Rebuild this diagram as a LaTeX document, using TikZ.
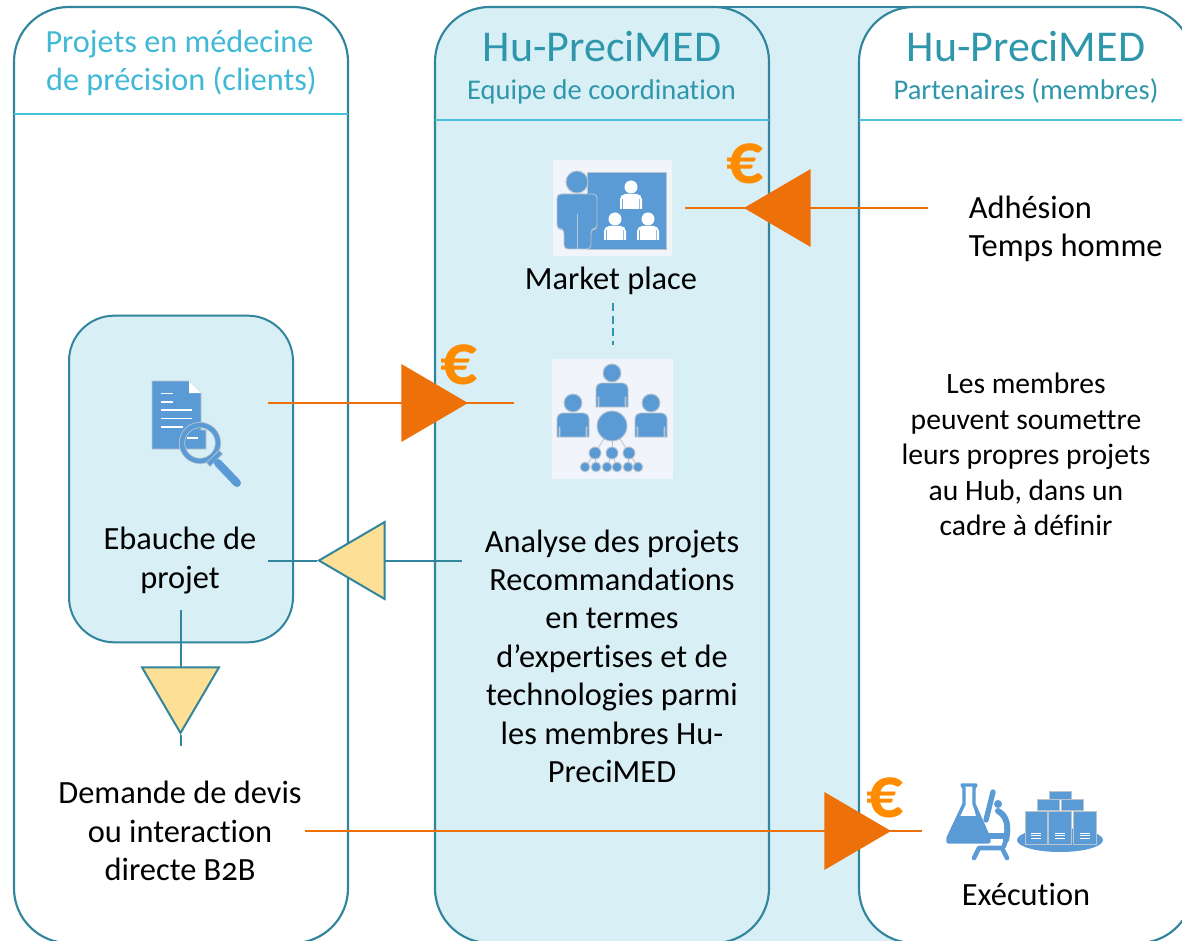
\documentclass[tikz,border=0pt]{standalone}
\usepackage{fontspec}
\setmainfont[Numbers=OldStyle,Ligatures=NoCommon]{Carlito}
\usetikzlibrary{arrows.meta,calc}
\definecolor{panelline}{HTML}{31859C}
\definecolor{hdrline}{HTML}{4BC0DC}
\definecolor{lightfill}{HTML}{D9EFF6}
\definecolor{titleA}{HTML}{41B9D6}
\definecolor{titleB}{HTML}{2E97AC}
\definecolor{orangeA}{HTML}{EE7009}
\definecolor{euroC}{HTML}{FF8C00}
\definecolor{yellowA}{HTML}{FDE096}
\definecolor{iconblue}{HTML}{5B9BD5}
\definecolor{icongrey}{HTML}{B9C4CE}
\definecolor{iconbg}{HTML}{F1F5FB}
\tikzset{
  panel/.style={draw=panelline,line width=1.6pt,rounded corners=41pt,minimum width=#1,minimum height=702pt,inner sep=0pt,outer sep=0pt},
  hdr/.style={draw=hdrline,line width=1.3pt},
  txt/.style={align=center,anchor=base,text=black,inner sep=0pt,font=\fontsize{24.3pt}{28.8pt}\selectfont},
  txtsmall/.style={align=center,anchor=base,text=black,inner sep=0pt,font=\fontsize{22.2pt}{26.6pt}\selectfont},
  ttlA/.style={align=center,anchor=base,text=titleA,inner sep=0pt,font=\fontsize{24.2pt}{28.8pt}\selectfont},
  ttlB/.style={anchor=base,text=titleB,inner sep=0pt,font=\fontsize{33pt}{34pt}\selectfont},
  ttlC/.style={anchor=base,text=titleB,inner sep=0pt,font=\fontsize{21.4pt}{26pt}\selectfont},
  euro/.style={anchor=center,text=euroC,inner sep=0pt,font=\bfseries\fontsize{55pt}{55pt}\selectfont},
  oline/.style={draw=orangeA,line width=2.2pt},
  tline/.style={draw=panelline,line width=1.5pt},
  otip/.style={-{Triangle[length=50pt,width=58.5pt,fill=orangeA,line width=0pt]}},
  ytip/.style={-{Triangle[length=51.5pt,width=60pt,fill=yellowA]}},
  ic/.style={fill=iconblue,draw=icongrey,line width=.7pt},
  icw/.style={fill=white,draw=none},
  icl/.style={draw=icongrey,line width=.6pt},
  iwl/.style={draw=white,line width=1pt},
  ibl/.style={draw=iconblue,line cap=round,line join=round},
}
% centre x, head y, head r, half body width, body top, body bottom, style
\newcommand{\iconbust}[7]{%
  \path[#7] (#1,#2) circle (#3);
  \path[#7] (#1-#4+3,#6) -- (#1-#4+3,#6-10) -- (#1-#4+2.2,#6-10) -- (#1-#4+2.2,#6) -- (#1-#4,#6)
    [rounded corners=4pt] -- (#1-#4,#5) -- (#1+#4,#5) [sharp corners] -- (#1+#4,#6) -- (#1+#4-2.2,#6) -- (#1+#4-2.2,#6-10) -- (#1+#4-3,#6-10) -- (#1+#4-3,#6) -- cycle;
}
\begin{document}
\begin{tikzpicture}[x=0.75pt,y=-0.75pt]
\useasboundingbox (0,0) rectangle (1182,941);
\clip (0,0) rectangle (1182,941);
\fill[white] (0,0) rectangle (1182,941);
% band between the two Hu-PreciMED panels
\path[fill=lightfill] (715,7) rectangle (920,941);
\draw[panelline,line width=1.6pt] (715,7) -- (920,7);
% panels
\node[panel=250.5pt,fill=white] (left) at (181,475) {};
\node[panel=250.5pt,fill=lightfill] (mid) at (602,475) {};
\node[panel=250.5pt,fill=white] (right) at (1026,475) {};
\draw[hdr] (left.west |- 0,114) -- (left.east |- 0,114);
\draw[hdr] (mid.west |- 0,120) -- (mid.east |- 0,120);
\draw[hdr] (right.west |- 0,120) -- (right.east |- 0,120);
% titles
\node[ttlA] (t1) at (179.5,91) {Projets en médecine\\\hspace*{3pt}de précision (clients)};
\node[ttlB] (t2) at (602,62) {Hu-PreciMED};
\node[ttlC] (t3) at (601.5,100) {Equipe de coordination};
\node[ttlB] (t4) at (1026,62) {Hu-PreciMED};
\node[ttlC] (t5) at (1026,100) {Partenaires (membres)};
% draft box
\node[draw=panelline,line width=1.5pt,fill=lightfill,rounded corners=34pt,minimum width=168pt,minimum height=245pt,inner sep=0pt] (draft) at (181,479) {};
% texts
\node[txt] (market) at (611,290) {Market place};
\node[txt,align=left,anchor=base west] (adh) at (968.5,256.5) {Adhésion\\Temps homme};
\node[txtsmall] (membres) at (1026,535.5) {Les membres\\peuvent soumettre\\leurs propres projets\\au Hub, dans un\\cadre à définir};
\node[txt] (ebauche) at (180,588) {Ebauche de\\projet};
\node[txt] (analyse) at (612,782.5) {Analyse des projets\\Recommandations\\en termes\\d’expertises et de\\technologies parmi\\les membres Hu-\\PreciMED};
\node[txt] (demande) at (180,880.5) {Demande de devis\\ou interaction\\directe B2B};
\node[txt] (exec) at (1026,905) {Exécution};
% euros
\node[euro] (e1) at (745,164) {€};
\node[euro] (e2) at (459,365) {€};
\node[euro] (e3) at (885,798) {€};
% connectors
\coordinate (a1s) at (928,208); \coordinate (a1t) at (744,208); \coordinate (a1e) at (685,208);
\draw[oline] (a1s) -- (a1e);
\draw[oline,otip] (a1s) -- (a1t);
\coordinate (a2s) at (268,403); \coordinate (a2t) at (468,403); \coordinate (a2e) at (514,403);
\draw[oline] (a2s) -- (a2e);
\draw[oline,otip] (a2s) -- (a2t);
\coordinate (a3s) at (305,831); \coordinate (a3t) at (891,831); \coordinate (a3e) at (922,831);
\draw[oline] (a3s) -- (a3e);
\draw[oline,otip] (a3s) -- (a3t);
\coordinate (y1s) at (462,560.5); \coordinate (y1t) at (317,560.5); \coordinate (y1e) at (268,560.5);
\draw[tline] (y1t) -- (y1e);
\draw[tline,ytip] (y1s) -- (y1t);
\coordinate (y2s) at (180.5,610); \coordinate (y2t) at (180.5,735); \coordinate (y2e) at (180.5,746);
\draw[tline] (y2t) -- (y2e);
\draw[tline,ytip] (y2s) -- (y2t);
\coordinate (ds) at (613,303); \coordinate (de) at (613,345);
\draw[draw=titleB,line width=1pt,dash pattern=on 6pt off 3.5pt] (ds) -- (de);
% icon market place
\fill[iconbg] (553,160) rectangle (672,256);
\path[ic] (587,172) rectangle (666,249);
\path[ic] (577,182) circle (11);
\path[ic,rounded corners=3pt] (557,229) -- (557,194) -- (597,194) -- (597,229) -- (591,229) -- (591,249) -- (564,249) -- (564,229) -- cycle;
\draw[icl] (577.5,214) -- (577.5,249);
\iconbust{631}{187}{6.5}{11}{194}{209}{icw}
\iconbust{615}{219}{6.5}{11}{226}{240}{icw}
\iconbust{648}{219}{6.5}{11}{226}{240}{icw}
% icon network
\fill[iconbg] (552,359) rectangle (673,479);
\foreach \a in {595,612,629} \draw[icl] (612,426) -- (\a,453);
\foreach \a/\b in {595/585,595/596,612/607,612/617,629/628,629/638} \draw[icl] (\a,453) -- (\b,467);
\iconbust{612}{373}{9}{16}{383}{407}{ic}
\iconbust{573}{403}{9}{16}{413}{437}{ic}
\iconbust{651}{403}{9}{16}{413}{437}{ic}
\path[ic] (612,426) circle (15);
\foreach \a in {595,612,629} \path[ic] (\a,453) circle (6);
\foreach \a in {585,596,607,617,628,638} \path[ic] (\a,467) circle (4.8);
% icon document
\path[ic] (152,381) -- (189,381) -- (201,393) -- (201,430) -- (206,430) -- (206,449) -- (152,449) -- cycle;
\fill[white] (189,381) -- (201,393) -- (189,393) -- cycle;
\draw[iwl] (161,393.5) -- (173,393.5);
\draw[iwl] (161,402) -- (173,402);
\draw[iwl] (161,410) -- (192,410);
\draw[iwl] (161,418.5) -- (192,418.5);
\draw[iwl] (161,427) -- (183,427);
\draw[white,line width=1.5pt] (187,437.5) -- (198,437.5);
\draw[icongrey,line width=4.6pt] (200,443) circle (18);
\draw[iconblue,line width=3.4pt] (200,443) circle (18);
\draw[icongrey,line width=4.5pt] (208,465) -- (221,452);
\draw[iconblue,line width=3pt] (208.5,464.5) -- (220.5,452.5);
\draw[ibl,line width=6pt] (218,463) -- (237,483);
% icon flask
\path[fill=iconblue,line join=round] (973,804) -- (989,838) -- (989,841) -- (948,841) -- (948,838) -- (960,816) -- (976,816) -- cycle;
\draw[ibl,line width=2.5pt] (962,785) -- (976,785) -- (974,788) -- (974,804) -- (989,838) -- (989,842) -- (948,842) -- (948,838) -- (964,804) -- (964,788) -- cycle;
% microscope
\draw[ibl,line width=4pt] (993,792) -- (986,820);
\fill[iconblue] (998,804) circle (4);
\draw[ibl,line width=4.5pt] (998,811) .. controls (1007,816) and (1009,826) .. (1006,840);
\draw[ibl,line width=5pt] (973,836) -- (1005,836);
\draw[ibl,line width=3.5pt] (974,858) -- (979,848) -- (1002,848) -- (1007,858);
\draw[ibl,line width=3.5pt] (1004,846) -- (1007,836);
% icon servers
\fill[iconblue] (1060,840) ellipse (43 and 12);
\foreach \a/\b/\c/\d in {1049/791/1071/799,1037/799/1059/810,1061/799/1083/810,1025/811/1047/844,1048/811/1071/844,1073/811/1096/844} \path[ic] (\a,\b) rectangle (\c,\d);
\foreach \a in {1036,1059.5,1084.5} \foreach \b in {833,835.5,838} \draw[white,line width=.6pt] (\a-5,\b) -- (\a+5,\b);
\end{tikzpicture}
\end{document}
